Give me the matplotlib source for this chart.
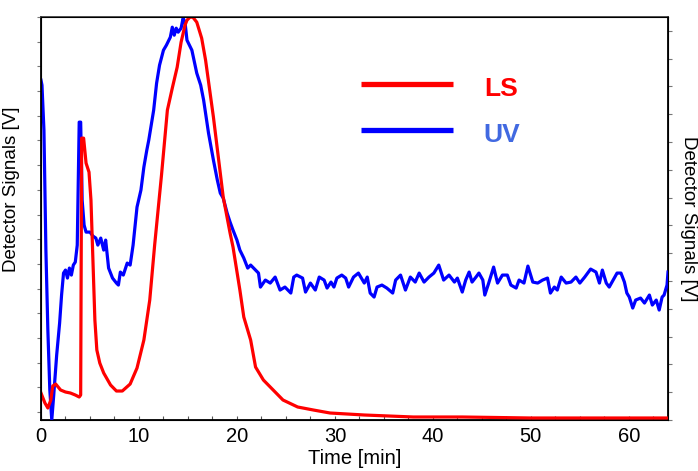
import numpy as np
import matplotlib
matplotlib.use("Agg")
import matplotlib.pyplot as plt

plt.rcParams['font.family'] = ['Liberation Sans', 'DejaVu Sans']

# signals as fraction of full scale (0 = bottom of frame, 1 = top)
FULL = 403.0

ls_t = [0.0, 0.4, 0.7, 1.0, 1.2, 1.5, 2.0, 2.5, 3.0, 3.5, 3.9, 4.05, 4.15, 4.35,
        4.6, 4.9, 5.1, 5.3, 5.5, 5.7, 6.0, 6.4, 7.1, 7.7, 8.3, 9.1, 9.8, 10.5,
        11.1, 11.6, 12.3, 12.9, 13.4, 13.9, 14.3, 14.7, 14.9, 15.2, 15.5, 15.9,
        16.4, 16.8, 17.6, 18.6, 19.3, 19.6, 20.3, 20.7, 21.4, 21.9, 22.7, 23.7,
        24.7, 26.2, 27.8, 29.5, 33.0, 38.0, 43.0, 50.0, 64.0]
ls_px = [393, 403, 408, 400, 386, 384, 390, 392, 393, 395, 397, 395, 138, 138,
         163, 172, 200, 260, 320, 350, 363, 373, 385, 391, 391, 384, 368, 340,
         300, 245, 175, 110, 88, 67, 42, 25, 20, 17, 17, 22,
         38, 60, 117, 197, 233, 247, 290, 317, 340, 367, 380, 390,
         400, 407, 410, 413, 415, 417, 417, 418, 418]

uv_t = [0.0, 0.1, 0.3, 0.5, 0.7, 0.9, 1.1, 1.3, 1.6, 1.9, 2.1, 2.3, 2.5, 2.7,
        2.9, 3.1, 3.3, 3.5, 3.7, 3.8, 3.9, 4.05, 4.2, 4.4, 4.6, 5.0, 5.3, 5.6,
        5.8, 6.1, 6.4, 6.6, 6.9, 7.3, 7.7, 7.9, 8.1, 8.4, 8.8, 9.1, 9.4, 9.8,
        10.2, 10.5, 10.8, 11.0, 11.5, 11.8, 12.1, 12.5, 12.8, 13.2, 13.4, 13.6,
        13.8, 14.0, 14.3, 14.5, 14.7, 14.9, 15.4, 15.9, 16.3, 16.6, 17.1, 17.6,
        18.0, 18.3, 18.6, 19.0, 19.3, 19.6, 20.0, 20.3, 20.7, 21.1, 21.4, 21.9,
        22.2, 22.4, 22.9, 23.4, 23.9, 24.4, 24.9, 25.5, 25.8, 26.1, 26.7, 27.0,
        27.5, 28.0, 28.4, 28.9, 29.2, 29.6, 29.9, 30.2, 30.7, 31.1, 31.4, 31.9,
        32.4, 33.0, 33.3, 33.6, 34.0, 34.3, 34.8, 35.3, 35.9, 36.2, 36.7, 37.2,
        37.7, 38.2, 38.6, 39.1, 39.6, 40.1, 40.6, 41.1, 41.65, 42.2, 42.5, 43.0,
        43.35, 43.7, 44.0, 44.4, 44.7, 45.1, 45.3, 45.7, 46.2, 46.6, 47.1, 47.6,
        47.96, 48.5, 48.8, 49.3, 49.7, 50.2, 50.7, 51.2, 51.7, 52.0, 52.4, 52.7,
        53.1, 53.6, 54.1, 54.6, 55.0, 55.5, 55.8, 56.1, 56.65, 57.0, 57.3, 57.7,
        58.0, 58.4, 58.8, 59.2, 59.55, 59.8, 60.05, 60.4, 60.7, 61.2, 61.6, 62.1,
        62.4, 62.8, 63.1, 63.4, 63.6, 63.9, 64.0]
uv_px = [80, 85, 130, 250, 330, 390, 420, 395, 355, 323, 295, 273, 270, 278,
         268, 275, 265, 262, 245, 180, 122, 122, 200, 225, 232, 232, 236, 238,
         245, 238, 250, 240, 268, 278, 283, 285, 272, 275, 263, 265, 245, 207,
         190, 167, 150, 140, 110, 83, 65, 50, 45, 37, 27, 35,
         28, 32, 28, 18, 22, 40, 50, 73, 85, 100, 133, 160,
         180, 193, 198, 213, 222, 230, 240, 250, 258, 268, 265, 270,
         273, 287, 280, 283, 277, 290, 287, 293, 277, 275, 278, 292,
         283, 290, 277, 280, 288, 282, 287, 278, 275, 278, 287, 277,
         273, 283, 277, 293, 297, 287, 285, 288, 293, 280, 275, 290,
         277, 282, 273, 282, 277, 273, 265, 280, 275, 282, 278, 292,
         280, 272, 282, 277, 273, 280, 295, 283, 267, 283, 275, 275,
         285, 288, 280, 283, 266, 282, 283, 280, 278, 293, 287, 290,
         277, 283, 282, 277, 283, 277, 273, 269, 272, 283, 270, 283,
         287, 280, 273, 273, 282, 293, 297, 308, 300, 298, 303, 295,
         305, 300, 310, 297, 295, 285, 272]

ls = (420 - np.array(ls_px)) / FULL
uv = (420 - np.array(uv_px)) / FULL

fig = plt.figure(figsize=(6.98, 4.71), dpi=100)
ax = fig.add_axes([41 / 698, 51 / 471, 627 / 698, 403 / 471])

ax.plot(uv_t, uv, color='#0000ff', lw=2.3, zorder=3)
ax.plot(ls_t, ls, color='#ff0000', lw=2.3, zorder=4)

ax.set_xlim(0, 64)
ax.set_ylim(0, 1)
ax.set_xticks([0, 10, 20, 30, 40, 50, 60])
ax.set_xticks(np.arange(0, 64.1, 2.5), minor=True)
ax.tick_params(axis='x', which='both', direction='in', length=3, width=0.8,
               color='#555555', labelsize=14.5, pad=5)
ax.set_yticks(np.arange(17) * 24.7 / FULL + 8 / FULL)
ax.set_yticklabels([])
ax.tick_params(axis='y', direction='out', length=3, width=0.8, color='#777777')
ax.set_xlabel('Time [min]', fontsize=14.5, labelpad=2)
ax.set_ylabel('Detector Signals [V]', fontsize=13.5)
ax.yaxis.set_label_coords(-0.033, 0.573)

for s in ax.spines.values():
    s.set_linewidth(1.3)
ax.spines['top'].set_color('#444444')

axr = ax.twinx()
axr.set_ylim(0, 14.5)
axr.set_yticks(np.arange(15))
axr.set_yticklabels([])
axr.tick_params(axis='y', direction='out', length=3, width=0.8, color='#777777')
axr.set_ylabel('Detector Signals [V]', fontsize=13.5, rotation=270, va='center')
axr.yaxis.set_label_coords(1.033, 0.5)

# legend drawn as lines with labels
leg_x = [32.7, 42.1]
ax.plot(leg_x, [(420 - 84) / FULL] * 2, color='#ff0000', lw=3.8, solid_capstyle='butt')
ax.plot(leg_x, [(420 - 130) / FULL] * 2, color='#0000ff', lw=3.8, solid_capstyle='butt')
ax.text(45.2, (420 - 89) / FULL, 'LS', color='#ff0000', fontsize=19,
        fontweight='bold', va='center', ha='left')
ax.text(45.2, (420 - 135) / FULL, 'UV', color='#4169e1', fontsize=19,
        fontweight='bold', va='center', ha='left')

fig.savefig('out.png', dpi=100)
